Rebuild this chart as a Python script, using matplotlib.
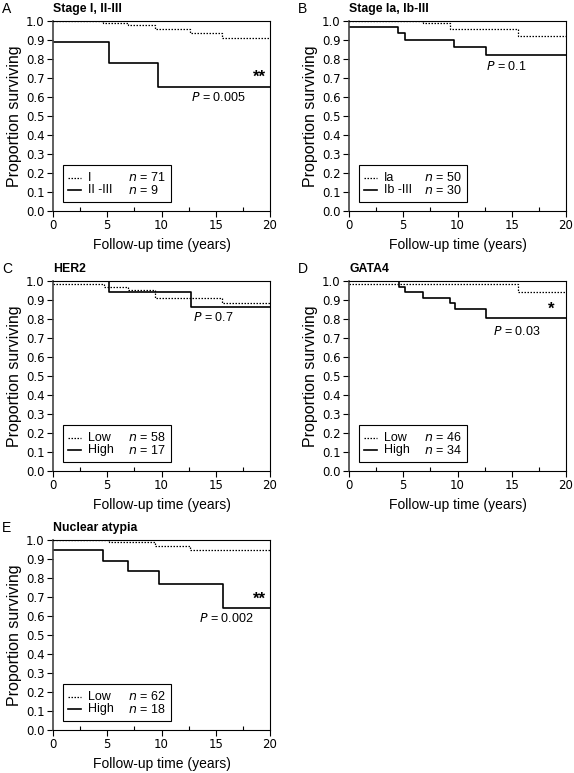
import matplotlib
matplotlib.use("Agg")
import matplotlib.pyplot as plt
from matplotlib.patches import Rectangle
from matplotlib.lines import Line2D

plt.rcParams['font.family'] = ['Liberation Sans', 'DejaVu Sans']

# Kaplan-Meier step data: times where the curve starts each level, and the level
# A: Stage I vs II-III
a_low_t = [0, 4.6, 6.9, 9.4, 12.6, 15.6, 20]
a_low_s = [1.0, 0.989, 0.977, 0.956, 0.937, 0.912, 0.912]
a_high_t = [0, 5.2, 9.7, 20]
a_high_s = [0.89, 0.78, 0.65, 0.65]

# B: Stage Ia vs Ib-III
b_low_t = [0, 6.8, 9.3, 15.6, 20]
b_low_s = [1.0, 0.99, 0.96, 0.92, 0.92]
b_high_t = [0, 4.55, 5.2, 9.7, 12.6, 20]
b_high_s = [0.97, 0.935, 0.90, 0.865, 0.82, 0.82]

# C: HER2
c_low_t = [0, 4.7, 6.9, 9.4, 15.6, 20]
c_low_s = [0.985, 0.968, 0.954, 0.912, 0.882, 0.882]
c_high_t = [0, 5.2, 12.7, 20]
c_high_s = [1.0, 0.94, 0.865, 0.865]

# D: GATA4
d_low_t = [0, 15.6, 20]
d_low_s = [0.982, 0.942, 0.942]
d_high_t = [0, 4.6, 5.2, 6.85, 9.3, 9.75, 12.6, 20]
d_high_s = [1.0, 0.97, 0.944, 0.912, 0.882, 0.853, 0.807, 0.807]

# E: Nuclear atypia
e_low_t = [0, 5.2, 9.4, 12.6, 20]
e_low_s = [1.0, 0.991, 0.966, 0.945, 0.945]
e_high_t = [0, 4.6, 6.9, 9.75, 15.7, 20]
e_high_s = [0.95, 0.89, 0.835, 0.767, 0.64, 0.64]

letters = ["A", "B", "C", "D", "E"]
titles = ["Stage I, II-III", "Stage Ia, Ib-III", "HER2", "GATA4", "Nuclear atypia"]
group_labels = [("I", "II -III"), ("Ia", "Ib -III"), ("Low", "High"), ("Low", "High"), ("Low", "High")]
group_n = [(71, 9), (50, 30), (58, 17), (46, 34), (62, 18)]
p_values = ["0.005", "0.1", "0.7", "0.03", "0.002"]
p_pos = [(15.2, 0.595), (14.5, 0.763), (14.8, 0.809), (15.45, 0.733), (16.0, 0.586)]
stars = ["**", "", "", "*", "**"]
star_pos = [(19.0, 0.705), None, None, (18.6, 0.850), (19.0, 0.687)]

curves = [
    (a_low_t, a_low_s, a_high_t, a_high_s),
    (b_low_t, b_low_s, b_high_t, b_high_s),
    (c_low_t, c_low_s, c_high_t, c_high_s),
    (d_low_t, d_low_s, d_high_t, d_high_s),
    (e_low_t, e_low_s, e_high_t, e_high_s),
]

W, H = 574, 773
fig = plt.figure(figsize=(W / 100, H / 100), dpi=100)

# axes boxes in pixels: left, top
boxes = [(53, 21), (349, 21), (53, 281), (349, 281), (53, 540)]
aw, ah = 217, 190

dotted = (0, (1.2, 1.2))

for i in range(5):
    left, top = boxes[i]
    ax = fig.add_axes([left / W, 1 - (top + ah) / H, aw / W, ah / H])
    lt, ls, ht, hs = curves[i]
    ax.step(lt, ls, where='post', color='black', lw=0.9, linestyle=dotted)
    ax.step(ht, hs, where='post', color='black', lw=1.2)

    ax.set_xlim(0, 20)
    ax.set_ylim(0, 1.0)
    ax.set_xticks([0, 5, 10, 15, 20])
    ax.set_xticks([2.5, 7.5, 12.5, 17.5], minor=True)
    ax.set_yticks([x / 10 for x in range(11)])
    ax.set_yticklabels([f"{x / 10:.1f}" for x in range(11)])
    ax.tick_params(axis='both', which='major', direction='out', length=4, width=0.8,
                   labelsize=8.5, pad=2)
    ax.tick_params(axis='x', which='minor', direction='in', length=3, width=0.8)
    for lab in ax.get_xticklabels() + ax.get_yticklabels():
        lab.set_family('DejaVu Sans')
    for sp in ax.spines.values():
        sp.set_linewidth(0.8)
    ax.spines['left'].set_linewidth(1.2)
    ax.spines['left'].set_color('#444444')

    ax.set_xlabel("Follow-up time (years)", fontsize=10, labelpad=4)
    ax.set_ylabel("Proportion surviving", fontsize=11.5, labelpad=3)

    ax.text(-0.235, 1.065, letters[i], transform=ax.transAxes, fontsize=10,
            va='center', ha='left')
    ax.text(0.0, 1.065, titles[i], transform=ax.transAxes, fontsize=8.8,
            fontweight='bold', va='center', ha='left')

    px, py = p_pos[i]
    ax.text(px, py, f"$\\it{{P}}$ = {p_values[i]}", fontsize=9, ha='center', va='center')
    if stars[i]:
        sx, sy = star_pos[i]
        ax.text(sx, sy, stars[i], fontsize=12, fontweight='bold', ha='center', va='center')

    # legend box
    bx0, by0, bw, bh = 0.046, 0.045, 0.50, 0.195
    ax.add_patch(Rectangle((bx0, by0), bw, bh, transform=ax.transAxes,
                           fill=False, edgecolor='black', lw=0.8, clip_on=False))
    rows = [0.175, 0.11]
    styles = [dict(lw=0.9, linestyle=dotted), dict(lw=1.2)]
    for r in range(2):
        ax.add_line(Line2D([0.07, 0.13], [rows[r], rows[r]], transform=ax.transAxes,
                           color='black', **styles[r]))
        ax.text(0.16, rows[r], group_labels[i][r], transform=ax.transAxes,
                fontsize=9, va='center', ha='left')
        ax.text(0.345, rows[r], f"$\\it{{n}}$ = {group_n[i][r]}", transform=ax.transAxes,
                fontsize=9, va='center', ha='left')

fig.savefig("out.png", dpi=100)
